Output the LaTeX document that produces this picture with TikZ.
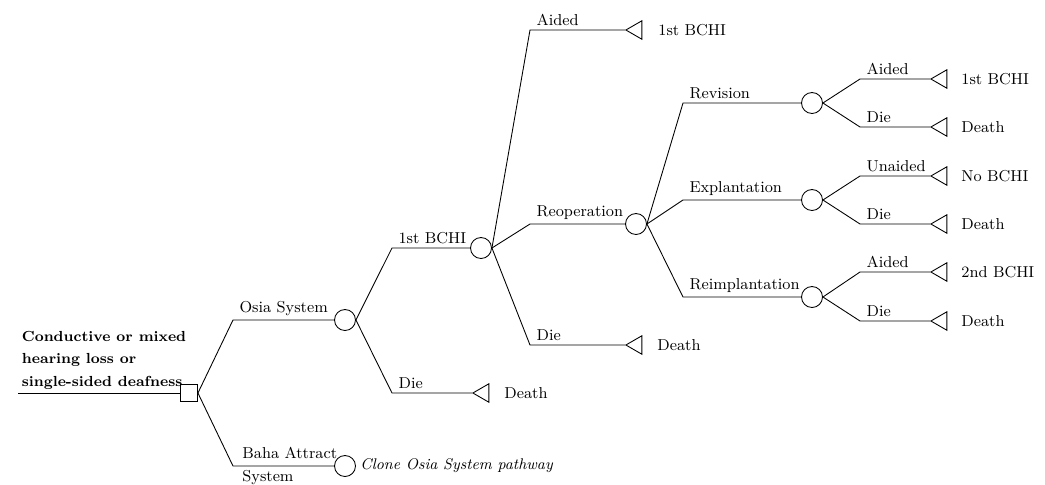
\documentclass[tikz,border=0pt]{standalone}
\usetikzlibrary{shapes.geometric}

\tikzset{
  decision/.style={draw,rectangle,minimum size=0.34cm,inner sep=0pt},
  chance/.style={draw,circle,minimum size=0.42cm,inner sep=0pt},
  terminal/.style={draw,isosceles triangle,isosceles triangle apex angle=60,
    shape border rotate=180,minimum height=0.32cm,inner sep=0pt,anchor=apex},
  branch/.style={pos=0,anchor=south west,inner sep=2pt,xshift=1.5pt},
  outcome/.style={anchor=west,inner sep=0pt}
}

\begin{document}
\begin{tikzpicture}[x=0.02cm,y=-0.02cm,line width=0.5pt,
  font=\fontsize{9}{11}\selectfont]
  \useasboundingbox (0,0) rectangle (1045,484);

  % nodes
  \coordinate (start) at (18,393);
  \node[decision] (d0) at (189,393) {};
  \node[chance] (osia) at (345,320) {};
  \node[chance] (baha) at (345,466) {};
  \node[chance] (bchi) at (481,248) {};
  \node[terminal] (t1) at (472,393) {};
  \node[terminal] (t2) at (625,30) {};
  \node[chance] (reop) at (636,224) {};
  \node[terminal] (t3) at (625,345) {};
  \node[chance] (rev) at (812,103) {};
  \node[chance] (expl) at (812,200) {};
  \node[chance] (reimp) at (812,297) {};
  \node[terminal] (t4) at (930,79) {};
  \node[terminal] (t5) at (930,127) {};
  \node[terminal] (t6) at (930,176) {};
  \node[terminal] (t7) at (930,224) {};
  \node[terminal] (t8) at (930,272) {};
  \node[terminal] (t9) at (930,321) {};

  % bends
  \coordinate (k1) at (233,320);
  \coordinate (k2) at (233,466);
  \coordinate (k3) at (392,248);
  \coordinate (k4) at (392,393);
  \coordinate (k5) at (530,30);
  \coordinate (k6) at (530,224);
  \coordinate (k7) at (530,345);
  \coordinate (k8) at (683,103);
  \coordinate (k9) at (683,200);
  \coordinate (k10) at (683,297);
  \coordinate (k11) at (860,79);
  \coordinate (k12) at (860,127);
  \coordinate (k13) at (860,176);
  \coordinate (k14) at (860,224);
  \coordinate (k15) at (860,272);
  \coordinate (k16) at (860,321);

  % root
  \node[anchor=south west,align=left,inner sep=2pt,
    font=\fontsize{8.3}{12.6}\selectfont\bfseries] (rootlbl) at (start)
    {Conductive or mixed\\hearing loss or\\single-sided deafness};
  \draw (start) -- (d0);

  % branches
  \draw (d0.east) -- (k1) -- node[branch]{Osia System} (osia);
  \draw (d0.east) -- (k2) -- (baha);
  \node[anchor=west,align=left,inner sep=0pt,
    font=\fontsize{9}{13}\selectfont] (bahalbl) at (242,466)
    {Baha Attract\\System};
  \node[outcome,font=\fontsize{8.8}{11}\selectfont\itshape] (clone) at (360,466)
    {Clone Osia System pathway};

  \draw (osia.east) -- (k3) -- node[branch]{1st BCHI} (bchi);
  \draw (osia.east) -- (k4) -- node[branch]{Die} (t1);

  \draw (bchi.east) -- (k5) -- node[branch]{Aided} (t2);
  \draw (bchi.east) -- (k6) -- node[branch]{Reoperation} (reop);
  \draw (bchi.east) -- (k7) -- node[branch]{Die} (t3);

  \draw (reop.east) -- (k8) -- node[branch]{Revision} (rev);
  \draw (reop.east) -- (k9) -- node[branch]{Explantation} (expl);
  \draw (reop.east) -- (k10) -- node[branch]{Reimplantation} (reimp);

  \draw (rev.east) -- (k11) -- node[branch]{Aided} (t4);
  \draw (rev.east) -- (k12) -- node[branch]{Die} (t5);
  \draw (expl.east) -- (k13) -- node[branch]{Unaided} (t6);
  \draw (expl.east) -- (k14) -- node[branch]{Die} (t7);
  \draw (reimp.east) -- (k15) -- node[branch]{Aided} (t8);
  \draw (reimp.east) -- (k16) -- node[branch]{Die} (t9);

  % outcomes
  \node[outcome] (o1) at (504,393) {Death};
  \node[outcome] (o2) at (658,30) {1st BCHI};
  \node[outcome] (o3) at (657,345) {Death};
  \node[outcome] (o4) at (961,79) {1st BCHI};
  \node[outcome] (o5) at (961,127) {Death};
  \node[outcome] (o6) at (961,176) {No BCHI};
  \node[outcome] (o7) at (961,224) {Death};
  \node[outcome] (o8) at (961,272) {2nd BCHI};
  \node[outcome] (o9) at (961,321) {Death};
\end{tikzpicture}
\end{document}
